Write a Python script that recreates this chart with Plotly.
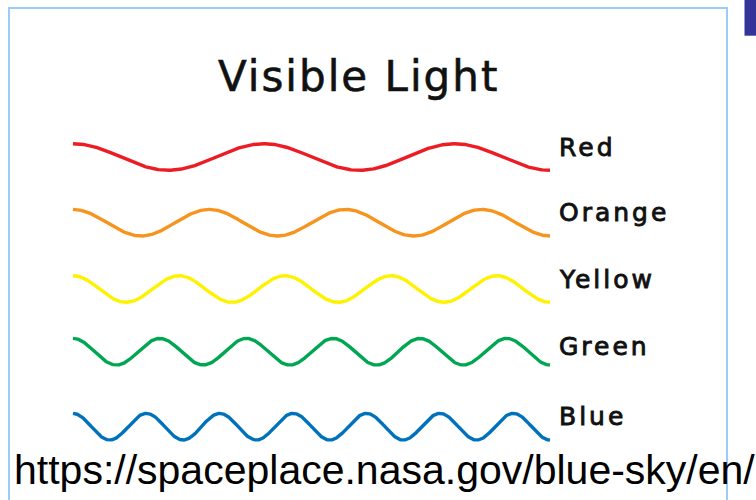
import numpy as np
import plotly.graph_objects as go

# ---- data ----
color_names = ["Red", "Orange", "Yellow", "Green", "Blue"]
wave_cycles = [2.5, 3.5, 4.5, 5.5, 6.5]          # full waves drawn across the same span
line_colors = ["#ED1C24", "#F7941D", "#FFF200", "#00A651", "#0072BC"]
title_text = "Visible Light"
source_text = "https://spaceplace.nasa.gov/blue-sky/en/"

# ---- layout (pixel geometry of the canvas) ----
W, H = 756, 500
wave_x0, wave_x1 = 73, 550            # where the wave span starts / ends
row_centers = [157, 222.7, 289, 351.7, 426.7]
label_baselines = [156.7, 221.7, 288.3, 355.5, 426]
amp = 13.3
label_x = 559

def px(x):
    return x / W

def py(y):
    return 1 - y / H

# x axis in "wave span" units: 0 at wave_x0, 1 at wave_x1
span = W / (wave_x1 - wave_x0)
x_range = [-wave_x0 / (wave_x1 - wave_x0), -wave_x0 / (wave_x1 - wave_x0) + span]

fig = go.Figure()
t = np.linspace(0, 1, 800)
for name, cyc, col, yc in zip(color_names, wave_cycles, line_colors, row_centers):
    fig.add_trace(go.Scatter(
        x=t, y=yc - amp * np.cos(2 * np.pi * cyc * t),
        mode="lines", line=dict(color=col, width=3.4),
        name=name, hoverinfo="skip", showlegend=False,
    ))

shapes = [
    dict(type="rect", xref="paper", yref="paper",
         x0=px(9), x1=px(727), y0=py(8), y1=py(H + 6),
         line=dict(color="#9CCBFA", width=2), fillcolor="rgba(0,0,0,0)", layer="below"),
    dict(type="rect", xref="paper", yref="paper",
         x0=px(744.5), x1=px(W + 2), y0=py(35.7), y1=py(-2),
         line=dict(width=0), fillcolor="#333399", layer="above"),
]


def styled(text, ls, stroke):
    return ('<span style="letter-spacing:%gpx;stroke:#111111;stroke-width:%gpx">'
            % (ls, stroke)) + text + "</span>"


title_size, title_ls = 42, 2
label_size, label_ls = 25, 3
annotations = [
    dict(text=styled(title_text, title_ls, 0.6),
         x=px(357.5 + title_ls / 2), y=py(91.7 - 0.37 * title_size),
         xref="paper", yref="paper",
         xanchor="center", yanchor="middle", showarrow=False,
         borderpad=0, borderwidth=0,
         font=dict(family="DejaVu Sans", size=title_size, color="#111111")),
    dict(text=source_text, x=px(14), y=py(469.8), xref="paper", yref="paper",
         xanchor="left", yanchor="middle", showarrow=False,
         borderpad=0, borderwidth=0,
         font=dict(family="Liberation Sans, Arial", size=41, color="#000000")),
]
for name, yb in zip(color_names, label_baselines):
    annotations.append(dict(
        text=styled(name, label_ls, 0.9),
        x=px(label_x), y=py(yb - 0.37 * label_size), xref="paper", yref="paper",
        xanchor="left", yanchor="middle", showarrow=False,
        borderpad=0, borderwidth=0,
        font=dict(family="DejaVu Sans", size=label_size, color="#111111"),
    ))

fig.update_layout(
    width=W, height=H,
    margin=dict(l=0, r=0, t=0, b=0),
    paper_bgcolor="white", plot_bgcolor="white",
    xaxis=dict(range=x_range, visible=False, fixedrange=True),
    yaxis=dict(range=[H, 0], visible=False, fixedrange=True),
    shapes=shapes, annotations=annotations,
)
fig.write_html(
    "out.html",
    config={"displayModeBar": False},
    post_script="document.body.style.margin='0';document.body.style.overflow='hidden';",
)
